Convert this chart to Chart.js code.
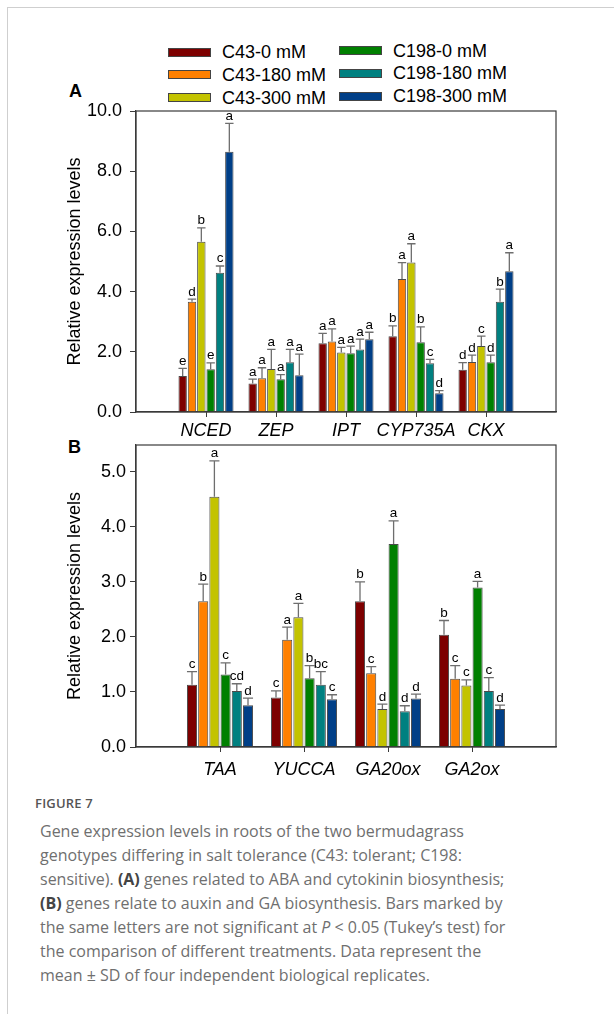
<!DOCTYPE html>
<html>
<head>
<meta charset="utf-8">
<script src="https://cdn.jsdelivr.net/npm/chart.js@4"></script>
<style>
  html, body { margin:0; padding:0; background:#fff; }
  body { width:614px; height:1014px; position:relative; overflow:hidden; font-family:"Liberation Sans", Arial, sans-serif; }
  .frameTop { position:absolute; left:7px; top:7px; width:607px; height:1px; background:#cfcfcf; }
  .frameLeft { position:absolute; left:7px; top:7px; width:1px; height:1007px; background:#cfcfcf; }
  .box { position:absolute; left:0; width:614px; height:360px; }
  .sw { position:absolute; width:41px; height:7px; border:1px solid #444; }
  .lt { position:absolute; font-size:18px; line-height:20px; color:#000; white-space:nowrap; }
  .plab { position:absolute; font-weight:bold; font-size:18px; line-height:20px; }
  .cap { position:absolute; left:40px; font-family:"Open Sans", sans-serif; font-size:16px; color:#6f6f6f; white-space:nowrap; line-height:20px; }
  .cap b { color:#444; font-weight:700; }
  .fig { position:absolute; left:35px; font-family:"Open Sans", sans-serif; font-size:13px; font-weight:600; color:#555; line-height:16px; letter-spacing:0.2px; }
</style>
</head>
<body>
<div class="frameTop"></div><div class="frameLeft"></div>
<div id="legend"></div>
<div class="plab" style="left:69px; top:81px;">A</div>
<div class="plab" style="left:68px; top:437px;">B</div>
<div class="box" style="top:90px;"><canvas id="cA"></canvas></div>
<div class="box" style="top:430px;"><canvas id="cB"></canvas></div>

<div class="fig" style="top:795px;">FIGURE 7</div>
<div class="cap" style="top:821px;">Gene expression levels in roots of the two bermudagrass</div>
<div class="cap" style="top:845px;">genotypes differing in salt tolerance (C43: tolerant; C198:</div>
<div class="cap" style="top:869px;">sensitive). <b>(A)</b> genes related to ABA and cytokinin biosynthesis;</div>
<div class="cap" style="top:893px;"><b>(B)</b> genes relate to auxin and GA biosynthesis. Bars marked by</div>
<div class="cap" style="top:917px;">the same letters are not significant at <i>P</i> &lt; 0.05 (Tukey’s test) for</div>
<div class="cap" style="top:941px;">the comparison of different treatments. Data represent the</div>
<div class="cap" style="top:965px;">mean ± SD of four independent biological replicates.</div>

<script>
// ---------- DATA ----------
const seriesNames = ['C43-0 mM','C43-180 mM','C43-300 mM','C198-0 mM','C198-180 mM','C198-300 mM'];
const seriesColors = ['#7d0000','#ff8000','#c3c300','#008000','#008080','#003f87'];

const genesA = ['NCED','ZEP','IPT','CYP735A','CKX'];
const a_C43_0    = [1.20, 0.95, 2.28, 2.52, 1.40];
const a_C43_180  = [3.66, 1.12, 2.34, 4.42, 1.66];
const a_C43_300  = [5.66, 1.43, 1.98, 4.97, 2.19];
const a_C198_0   = [1.42, 1.09, 1.95, 2.32, 1.65];
const a_C198_180 = [4.63, 1.65, 2.08, 1.62, 3.66];
const a_C198_300 = [8.65, 1.22, 2.42, 0.62, 4.68];
const aSD_C43_0    = [0.25, 0.14, 0.33, 0.34, 0.24];
const aSD_C43_180  = [0.09, 0.35, 0.42, 0.54, 0.23];
const aSD_C43_300  = [0.46, 0.65, 0.17, 0.62, 0.33];
const aSD_C198_0   = [0.21, 0.15, 0.24, 0.51, 0.24];
const aSD_C198_180 = [0.22, 0.43, 0.34, 0.13, 0.42];
const aSD_C198_300 = [0.94, 0.70, 0.23, 0.09, 0.61];
const aLet_C43_0    = ['e','a','a','b','d'];
const aLet_C43_180  = ['d','a','a','a','d'];
const aLet_C43_300  = ['b','a','a','a','c'];
const aLet_C198_0   = ['e','a','a','b','d'];
const aLet_C198_180 = ['c','a','a','c','b'];
const aLet_C198_300 = ['a','a','a','d','a'];
const ticksA = [0, 2, 4, 6, 8, 10];

const genesB = ['TAA','YUCCA','GA20ox','GA2ox'];
const b_C43_0    = [1.13, 0.90, 2.65, 2.04];
const b_C43_180  = [2.65, 1.95, 1.34, 1.24];
const b_C43_300  = [4.55, 2.36, 0.69, 1.12];
const b_C198_0   = [1.32, 1.25, 3.69, 2.90];
const b_C198_180 = [1.02, 1.13, 0.65, 1.02];
const b_C198_300 = [0.76, 0.87, 0.88, 0.69];
const bSD_C43_0    = [0.24, 0.12, 0.35, 0.26];
const bSD_C43_180  = [0.31, 0.23, 0.12, 0.24];
const bSD_C43_300  = [0.65, 0.25, 0.09, 0.10];
const bSD_C198_0   = [0.21, 0.23, 0.42, 0.11];
const bSD_C198_180 = [0.13, 0.24, 0.10, 0.24];
const bSD_C198_300 = [0.13, 0.08, 0.08, 0.07];
const bLet_C43_0    = ['c','c','b','b'];
const bLet_C43_180  = ['b','a','c','c'];
const bLet_C43_300  = ['a','a','d','c'];
const bLet_C198_0   = ['c','b','a','a'];
const bLet_C198_180 = ['cd','bc','d','c'];
const bLet_C198_300 = ['d','c','d','d'];
const ticksB = [0, 1, 2, 3, 4, 5];

// ---------- LEGEND ----------
(function(){
  const lg = document.getElementById('legend');
  const pos = [[168,52],[168,74.5],[168,97.5],[339,50.5],[339,73],[339,96]];
  seriesNames.forEach((n,i)=>{
    const [x,y] = pos[i];
    const s = document.createElement('div'); s.className='sw';
    s.style.left = x+'px'; s.style.top = (y-4.5)+'px'; s.style.background = seriesColors[i];
    lg.appendChild(s);
    const t = document.createElement('div'); t.className='lt';
    t.style.left = (x+54)+'px'; t.style.top = (y-10)+'px'; t.textContent = n;
    lg.appendChild(t);
  });
})();

const FONT = '"Liberation Sans", Arial, sans-serif';

const framePlugin = {
  id:'frame',
  afterDraw(chart){
    const {ctx, chartArea:a} = chart;
    ctx.save();
    ctx.strokeStyle = '#3a3a3a'; ctx.lineWidth = 1.2;
    ctx.strokeRect(a.left, a.top, a.right-a.left, a.bottom-a.top);
    ctx.restore();
  }
};

const errPlugin = {
  id:'errs',
  afterDatasetsDraw(chart){
    const ctx = chart.ctx, ys = chart.scales.y;
    chart.data.datasets.forEach((ds,i)=>{
      const meta = chart.getDatasetMeta(i);
      meta.data.forEach((el,j)=>{
        const v = ds.data[j];
        if (v === null || v === undefined) return;
        const sd = ds.sd[j];
        const yTop = ys.getPixelForValue(v);
        const yCap = ys.getPixelForValue(v + sd);
        const w = el.width;
        ctx.save();
        ctx.strokeStyle = '#6e6e6e'; ctx.lineWidth = 1.3;
        ctx.beginPath();
        ctx.moveTo(el.x, yTop); ctx.lineTo(el.x, yCap);
        ctx.moveTo(el.x - w/2, yCap); ctx.lineTo(el.x + w/2, yCap);
        ctx.stroke();
        ctx.fillStyle = '#000';
        ctx.font = '13.5px ' + FONT;
        ctx.textAlign = 'center'; ctx.textBaseline = 'bottom';
        ctx.fillText(ds.letters[j], el.x, yCap - 0.5);
        ctx.restore();
      });
    });
  }
};

function pad(arr){ return [null, ...arr, null]; }

function makeChart(id, genes, vals, sds, lets, ticks, ymax, topPad, xHeight, xPad, yPad){
  const labels = ['', ...genes, ''];
  const n = labels.length;
  const datasets = vals.map((v,i)=>({
    label: seriesNames[i],
    data: pad(v),
    sd: pad(sds[i]),
    letters: pad(lets[i]),
    backgroundColor: seriesColors[i],
    borderColor: '#4a4a4a',
    borderWidth: 1,
    categoryPercentage: 0.8,
    barPercentage: 0.9
  }));
  return new Chart(document.getElementById(id), {
    type:'bar',
    data:{ labels, datasets },
    plugins:[framePlugin, errPlugin],
    options:{
      responsive:true, maintainAspectRatio:false, animation:false, devicePixelRatio:1,
      layout:{ padding:{ left:0, right:58, top:topPad, bottom:0 } },
      plugins:{ legend:{display:false}, tooltip:{enabled:false} },
      scales:{
        x:{
          offset:false,
          afterFit(s){ s.height = xHeight; },
          grid:{ display:true, drawOnChartArea:false, offset:false, tickLength:5,
                 tickColor:(c)=> (c.index===0 || c.index===n-1) ? 'rgba(0,0,0,0)' : '#3a3a3a', color:'#3a3a3a' },
          border:{ display:true, color:'#3a3a3a', width:1.2 },
          ticks:{ autoSkip:false, maxRotation:0, color:'#000', padding:xPad,
                  font:{ family:FONT, size:18, style:'italic' } }
        },
        y:{
          min:0, max:ymax,
          afterFit(s){ s.width = 136; },
          afterBuildTicks(s){ s.ticks = ticks.map(v=>({value:v})); },
          grid:{ display:true, drawOnChartArea:false, tickLength:6, color:'#3a3a3a' },
          border:{ display:true, color:'#3a3a3a', width:1.2 },
          ticks:{ color:'#000', padding:yPad, font:{ family:FONT, size:18 },
                  callback:(v)=>Number(v).toFixed(1) },
          title:{ display:true, text:'Relative expression levels', color:'#000',
                  font:{ family:FONT, size:18 }, padding:{ top:64, bottom:0 } }
        }
      }
    }
  });
}

makeChart('cA', genesA,
  [a_C43_0,a_C43_180,a_C43_300,a_C198_0,a_C198_180,a_C198_300],
  [aSD_C43_0,aSD_C43_180,aSD_C43_300,aSD_C198_0,aSD_C198_180,aSD_C198_300],
  [aLet_C43_0,aLet_C43_180,aLet_C43_300,aLet_C198_0,aLet_C198_180,aLet_C198_300],
  ticksA, 10, 21, 38, 3, 8);

makeChart('cB', genesB,
  [b_C43_0,b_C43_180,b_C43_300,b_C198_0,b_C198_180,b_C198_300],
  [bSD_C43_0,bSD_C43_180,bSD_C43_300,bSD_C198_0,bSD_C198_180,bSD_C198_300],
  [bLet_C43_0,bLet_C43_180,bLet_C43_300,bLet_C198_0,bLet_C198_180,bLet_C198_300],
  ticksB, 5.49, 15, 43, 7, 4);
</script>
</body>
</html>
